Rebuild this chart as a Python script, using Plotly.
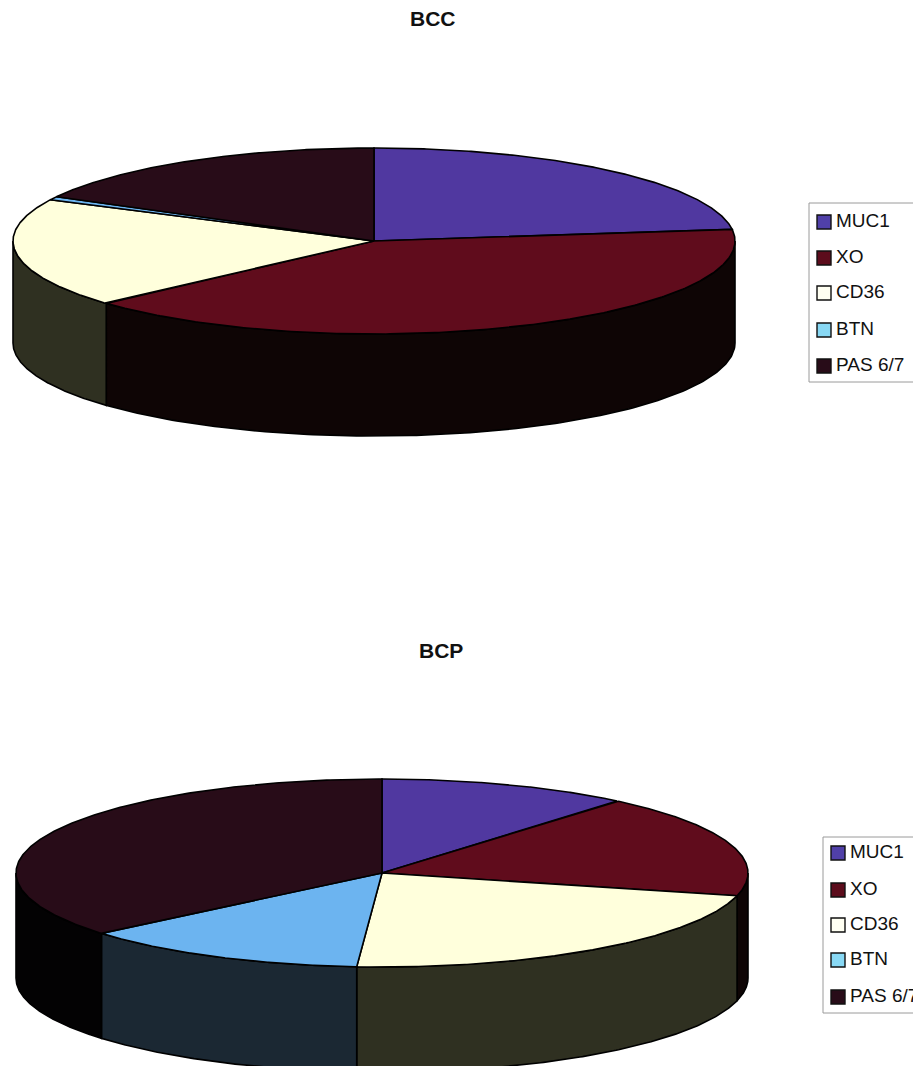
import numpy as np
import plotly.graph_objects as go

# Shares of each marker, in percent, per sample group
categories = ["MUC1", "XO", "CD36", "BTN", "PAS 6/7"]
bcc_values = [23.0, 40.3, 19.0, 0.6, 17.1]
bcp_values = [11.1, 17.8, 22.2, 12.8, 36.1]

top_colors = ["#5038a0", "#600c1c", "#ffffdc", "#6cb4f0", "#280c18"]
wall_colors = ["#1c1438", "#0e0505", "#2f3021", "#1b2833", "#030203"]
key_colors = ["#5040a8", "#5c0c1c", "#fffff2", "#88d8f4", "#280c18"]

WIDTH, HEIGHT = 913, 1066

# Tilted-disc layout for each chart, in page pixels
BCC_DISC = dict(cx=374, cy=241, rx=361, ry=93, depth=102)
BCP_DISC = dict(cx=382, cy=873, rx=366, ry=94, depth=105)

FONT = "Liberation Sans, Arial, sans-serif"


def rim(disc, angles, drop=0):
    """Points on the disc edge; angles run clockwise from 12 o'clock, in degrees."""
    rad = np.radians(angles)
    return (disc["cx"] + disc["rx"] * np.sin(rad),
            disc["cy"] - disc["ry"] * np.cos(rad) + drop)


def slab(fig, disc, values, label):
    edges = np.concatenate([[0], np.cumsum(values)]) / np.sum(values) * 360
    outline = dict(color="#000000", width=1.6)

    # Only the front half of the rim is visible, and it is drawn first
    for i, name in enumerate(categories):
        a0, a1 = max(edges[i], 90), min(edges[i + 1], 270)
        if a1 <= a0:
            continue
        arc = np.linspace(a0, a1, 160)
        xt, yt = rim(disc, arc)
        xb, yb = rim(disc, arc[::-1], disc["depth"])
        fig.add_trace(go.Scatter(
            x=np.r_[xt, xb, xt[:1]], y=np.r_[yt, yb, yt[:1]],
            mode="lines", fill="toself", fillcolor=wall_colors[i], line=outline,
            hoverinfo="skip", showlegend=False))

    for i, name in enumerate(categories):
        arc = np.linspace(edges[i], edges[i + 1], 240)
        x, y = rim(disc, arc)
        fig.add_trace(go.Scatter(
            x=np.r_[disc["cx"], x, disc["cx"]], y=np.r_[disc["cy"], y, disc["cy"]],
            mode="lines", fill="toself", fillcolor=top_colors[i], line=outline,
            name=name, hovertemplate=f"{label} {name}: {values[i]}%<extra></extra>",
            showlegend=False))


def key(fig, swatch_x, text_x, rows, frame):
    fig.add_shape(type="rect", x0=frame[0], y0=frame[1], x1=frame[2], y1=frame[3],
                  xref="x", yref="y", line=dict(color="#9a9a9a", width=1),
                  fillcolor="#ffffff", layer="below")
    fig.add_trace(go.Scatter(
        x=[swatch_x] * len(categories), y=rows, mode="markers",
        marker=dict(symbol="square", size=14, color=key_colors,
                    line=dict(color="#111111", width=1.4)),
        hoverinfo="skip", showlegend=False))
    fig.add_trace(go.Scatter(
        x=[text_x] * len(categories), y=rows, mode="text",
        text=categories, textposition="middle right",
        textfont=dict(family=FONT, size=19, color="#111111"),
        hoverinfo="skip", showlegend=False, cliponaxis=False))


fig = go.Figure()
slab(fig, BCC_DISC, bcc_values, "BCC")
slab(fig, BCP_DISC, bcp_values, "BCP")
key(fig, 824, 836, [222, 258, 293, 330, 366], (809, 203, 930, 382))
key(fig, 838, 850, [853, 890, 925, 960, 997], (823, 837, 930, 1013))

title_font = dict(family=FONT, size=21, color="#111111")
for text, x, y in [("BCC", 433, 18), ("BCP", 441, 650)]:
    fig.add_annotation(text=f"<b>{text}</b>", x=x, y=y, xref="x", yref="y",
                       showarrow=False, font=title_font)

fig.update_layout(
    width=WIDTH, height=HEIGHT,
    margin=dict(l=0, r=0, t=0, b=0, pad=0),
    paper_bgcolor="#ffffff", plot_bgcolor="#ffffff",
    xaxis=dict(range=[0, WIDTH], visible=False, fixedrange=True),
    yaxis=dict(range=[HEIGHT, 0], visible=False, fixedrange=True),
    showlegend=False,
)

fig.write_html("out.html")
